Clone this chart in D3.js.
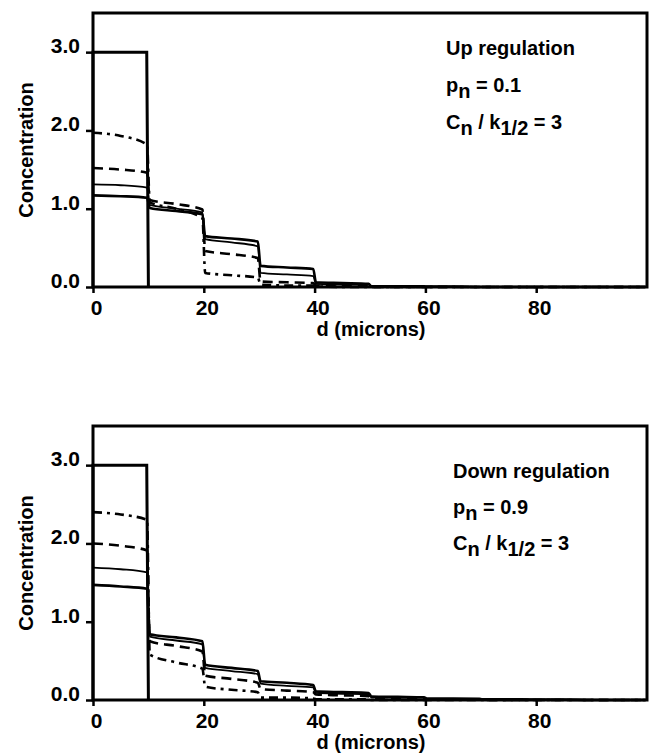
<!DOCTYPE html>
<html>
<head>
<meta charset="utf-8">
<script src="https://cdn.jsdelivr.net/npm/d3@7"></script>
<style>
  body { margin: 0; background: #fff; }
  text { font-family: "Liberation Sans", Arial, sans-serif; font-weight: bold; fill: #000; }
</style>
</head>
<body>
<div class="chart"></div>
<script>
var svgWidth = 652;
var svgHeight = 756;

// compartments are 10 microns wide; each curve has [start, middle, end] values per compartment
var compartStarts = [0, 10, 20, 30, 40, 50, 60, 70, 80, 90];
var compartWidth = 10;
var sourceConc = 3.0;
var xTicks = [0, 20, 40, 60, 80];
var yTicks = [0, 1, 2, 3];

var upDashDot = [[1.97, 1.93, 1.82], [1.08, 1.0, 0.88], [0.18, 0.15, 0.12], [0.03, 0.02, 0.02], [0.01, 0.0, 0.0], [0, 0, 0], [0, 0, 0], [0, 0, 0], [0, 0, 0], [0, 0, 0]];
var upDashed = [[1.52, 1.50, 1.46], [1.11, 1.06, 0.99], [0.46, 0.42, 0.37], [0.07, 0.06, 0.05], [0.02, 0.01, 0.01], [0, 0, 0], [0, 0, 0], [0, 0, 0], [0, 0, 0], [0, 0, 0]];
var upThin = [[1.31, 1.30, 1.27], [1.05, 1.0, 0.95], [0.61, 0.57, 0.52], [0.18, 0.16, 0.14], [0.04, 0.03, 0.03], [0.01, 0.01, 0.0], [0, 0, 0], [0, 0, 0], [0, 0, 0], [0, 0, 0]];
var upSolid = [[1.17, 1.16, 1.14], [1.01, 0.97, 0.93], [0.65, 0.62, 0.58], [0.27, 0.25, 0.23], [0.06, 0.05, 0.04], [0.01, 0.01, 0.01], [0.005, 0.005, 0.0], [0, 0, 0], [0, 0, 0], [0, 0, 0]];

var downDashDot = [[2.40, 2.37, 2.30], [0.58, 0.48, 0.40], [0.17, 0.13, 0.10], [0.03, 0.03, 0.02], [0.01, 0.01, 0.01], [0, 0, 0], [0, 0, 0], [0, 0, 0], [0, 0, 0], [0, 0, 0]];
var downDashed = [[2.00, 1.97, 1.91], [0.75, 0.69, 0.62], [0.31, 0.27, 0.22], [0.14, 0.12, 0.10], [0.07, 0.06, 0.05], [0.02, 0.02, 0.02], [0.01, 0.01, 0.01], [0, 0, 0], [0, 0, 0], [0, 0, 0]];
var downThin = [[1.69, 1.67, 1.63], [0.81, 0.76, 0.71], [0.41, 0.37, 0.33], [0.21, 0.18, 0.16], [0.09, 0.08, 0.07], [0.035, 0.03, 0.03], [0.015, 0.01, 0.01], [0.005, 0.005, 0.005], [0, 0, 0], [0, 0, 0]];
var downSolid = [[1.47, 1.45, 1.42], [0.84, 0.80, 0.75], [0.45, 0.41, 0.37], [0.24, 0.22, 0.19], [0.11, 0.10, 0.09], [0.045, 0.04, 0.035], [0.02, 0.02, 0.015], [0.01, 0.01, 0.005], [0.005, 0.005, 0], [0, 0, 0]];

var panels = [
  { top: 13, title: "Up regulation", pn: "0.1", series: [upDashDot, upDashed, upThin, upSolid], noteX: 446, noteY: [55, 92, 129] },
  { top: 426, title: "Down regulation", pn: "0.9", series: [downDashDot, downDashed, downThin, downSolid], noteX: 453, noteY: [478, 514, 550] }
];

var lineStyles = [
  { width: 2.6, dash: "9,5,3,5" },
  { width: 2.6, dash: "10,6" },
  { width: 1.8, dash: null },
  { width: 2.6, dash: null }
];

var svg = d3.select(".chart")
  .append("svg")
    .attr("width", svgWidth)
    .attr("height", svgHeight);

var plotLeft = 93, plotRight = 647, plotHeight = 274;

var xScale = d3.scaleLinear().domain([0, 100]).range([plotLeft, plotRight]);

panels.forEach(function(p) {
  var yScale = d3.scaleLinear().domain([0, 3.5]).range([p.top + plotHeight, p.top]);
  var g = svg.append("g");

  // frame
  g.append("rect")
    .attr("x", plotLeft)
    .attr("y", p.top)
    .attr("width", plotRight - plotLeft)
    .attr("height", plotHeight)
    .attr("fill", "none")
    .attr("stroke", "#000")
    .attr("stroke-width", 3);

  // axes
  var xAxis = g.append("g")
    .attr("transform", "translate(0," + (p.top + plotHeight) + ")")
    .call(d3.axisBottom(xScale).tickValues(xTicks).tickSize(6).tickPadding(3).tickFormat(d3.format("d")));
  var yAxis = g.append("g")
    .attr("transform", "translate(" + plotLeft + ",0)")
    .call(d3.axisLeft(yScale).tickValues(yTicks).tickSize(7).tickPadding(6).tickFormat(d3.format(".1f")));

  [xAxis, yAxis].forEach(function(a) {
    a.select(".domain").remove();
    a.selectAll(".tick line").attr("stroke", "#000").attr("stroke-width", 2.5);
    a.selectAll(".tick text").attr("font-size", 21).attr("font-family", null).attr("fill", "#000");
  });
  xAxis.selectAll(".tick text").attr("dy", "0.9em").attr("dx", 3);
  yAxis.selectAll(".tick text").attr("dy", "0.02em");

  // source compartment
  var stepLine = d3.line().x(function(d) { return xScale(d[0]); }).y(function(d) { return yScale(d[1]); });
  g.append("path")
    .attr("d", stepLine([[0, 0], [0, sourceConc], [compartWidth - 0.3, sourceConc], [compartWidth, 0]]))
    .attr("fill", "none")
    .attr("stroke", "#000")
    .attr("stroke-width", 3);

  // concentration curves
  var curve = d3.line()
    .x(function(d) { return xScale(d[0]); })
    .y(function(d) { return yScale(d[1]); })
    .curve(d3.curveMonotoneX);

  p.series.forEach(function(s, si) {
    var pts = [];
    s.forEach(function(v, i) {
      var x0 = compartStarts[i];
      pts.push([x0 + (i === 0 ? 0 : 0.25), v[0]]);
      pts.push([x0 + compartWidth / 2, v[1]]);
      pts.push([x0 + compartWidth - 0.25, v[2]]);
    });
    g.append("path")
      .attr("d", curve(pts))
      .attr("fill", "none")
      .attr("stroke", "#000")
      .attr("stroke-width", lineStyles[si].width)
      .attr("stroke-dasharray", lineStyles[si].dash);
  });

  // axis titles
  g.append("text")
    .attr("transform", "rotate(-90)")
    .attr("x", -(p.top + plotHeight / 2))
    .attr("y", 33)
    .attr("text-anchor", "middle")
    .attr("font-size", 20)
    .text("Concentration");

  g.append("text")
    .attr("x", xScale(50) + 1)
    .attr("y", p.top + plotHeight + 49)
    .attr("text-anchor", "middle")
    .attr("font-size", 20)
    .text("d (microns)");

  // annotation
  g.append("text")
    .attr("x", p.noteX).attr("y", p.noteY[0])
    .attr("font-size", 20)
    .text(p.title);

  var t2 = g.append("text").attr("x", p.noteX).attr("y", p.noteY[1]).attr("font-size", 20);
  t2.append("tspan").text("p");
  t2.append("tspan").attr("dy", 6).text("n");
  t2.append("tspan").attr("dy", -6).text(" = " + p.pn);

  var t3 = g.append("text").attr("x", p.noteX).attr("y", p.noteY[2]).attr("font-size", 20);
  t3.append("tspan").text("C");
  t3.append("tspan").attr("dy", 6).text("n");
  t3.append("tspan").attr("dy", -6).text(" / k");
  t3.append("tspan").attr("dy", 6).text("1/2");
  t3.append("tspan").attr("dy", -6).text(" = 3");
});
</script>
</body>
</html>
